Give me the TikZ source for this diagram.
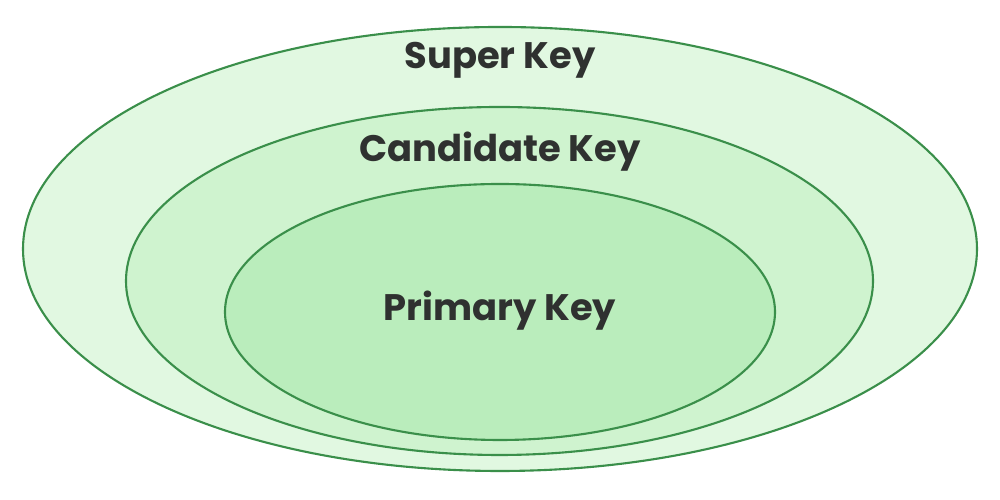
\documentclass[tikz,border=0pt]{standalone}
\usepackage{fontspec}
\setmainfont{Poppins}
\usetikzlibrary{shapes.geometric,positioning}
\definecolor{rim}{HTML}{3A8F4A}
\definecolor{fillA}{HTML}{E1F8E1}
\definecolor{fillB}{HTML}{CFF3CF}
\definecolor{fillC}{HTML}{BAEDBC}
\definecolor{ink}{HTML}{2F3130}
\begin{document}
\begin{tikzpicture}[
    keyset/.style={ellipse, draw=rim, line width=1.2pt, inner sep=0pt},
    keylabel/.style={font=\bfseries\fontsize{21}{25}\selectfont, text=ink}]
    \useasboundingbox (0,0) rectangle (20,10);
    % Sets
    \node[keyset, fill=fillA, minimum width=19.08cm, minimum height=8.88cm] (SK) at (10,5.02) {};
    \node[keyset, fill=fillB, minimum width=14.94cm, minimum height=6.96cm] (CK) at (9.99,4.38) {};
    \node[keyset, fill=fillC, minimum width=11cm, minimum height=5.12cm] (PK) at (10,3.76) {};
    % Labels
    \node[keylabel] (SKlabel) at (10,8.8) {Super Key};
    \node[keylabel] (CKlabel) at (10,6.96) {Candidate Key};
    \node[keylabel] (PKlabel) at (10,3.78) {Primary Key};
\end{tikzpicture}
\end{document}
